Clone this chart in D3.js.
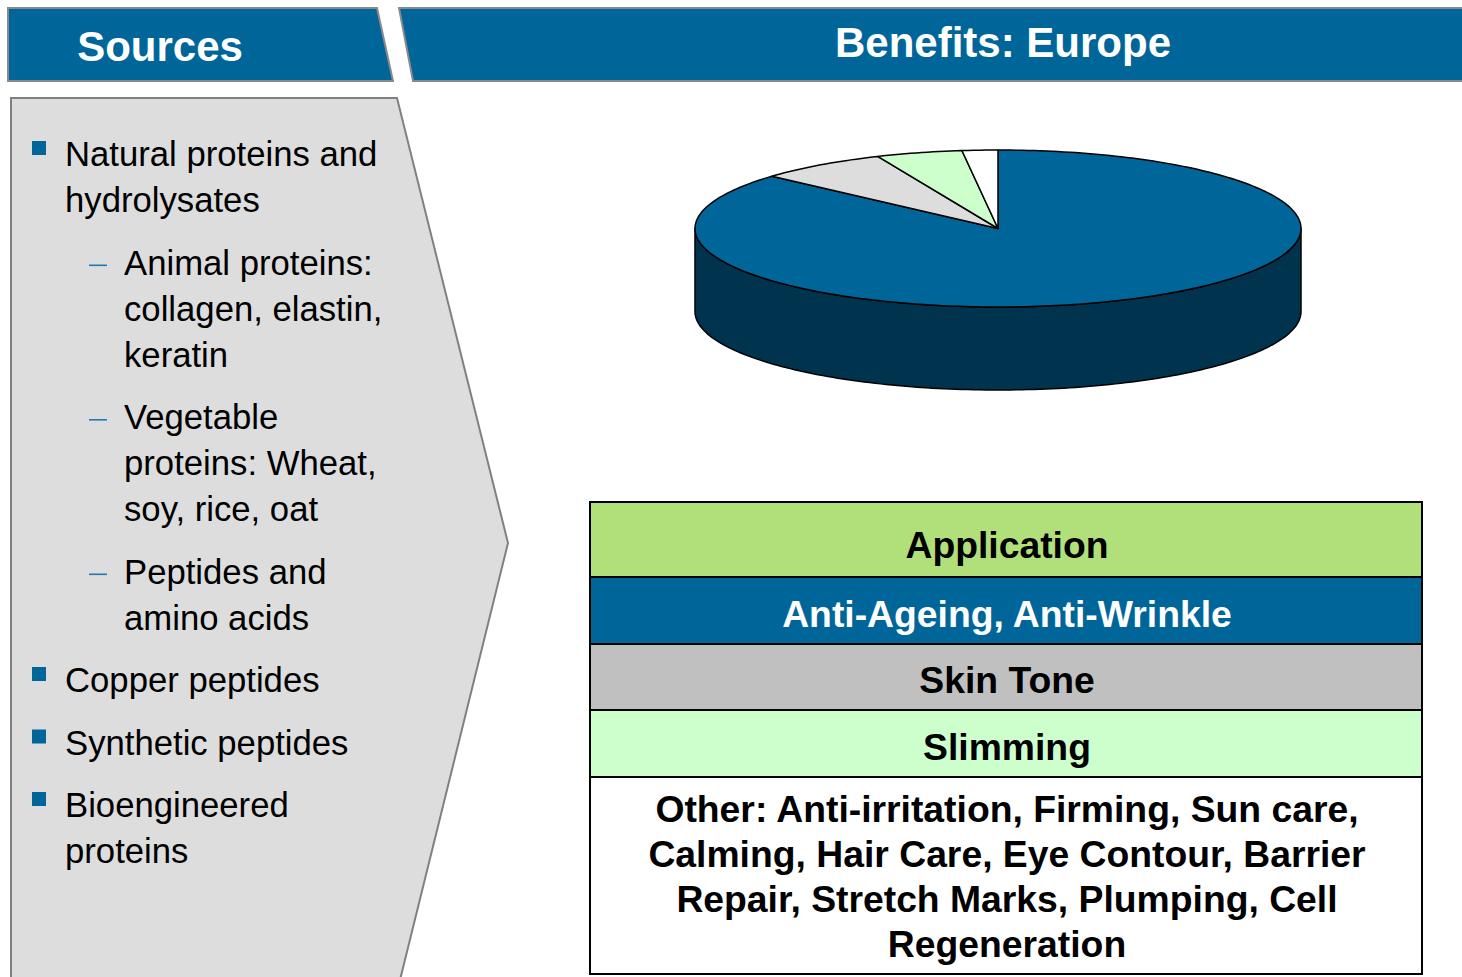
<!DOCTYPE html>
<html>
<head>
<meta charset="utf-8">
<script src="https://cdn.jsdelivr.net/npm/d3@7"></script>
<style>
  body { margin: 0; background: #fff; }
  text { font-family: Arial, "Liberation Sans", sans-serif; }
</style>
</head>
<body>
<div id="chart"></div>
<script>
// pie: share of benefits, clockwise from 12 o'clock
var categories = ['Anti-Ageing, Anti-Wrinkle', 'Skin Tone', 'Slimming', 'Other'];
var shares = [86.6, 6.9, 4.6, 1.9];
var sliceColors = ['#006699', '#dddddd', '#ccffcc', '#ffffff'];

// table rows
var tableLabels = ['Application', 'Anti-Ageing, Anti-Wrinkle', 'Skin Tone', 'Slimming',
  ['Other: Anti-irritation, Firming, Sun care,', 'Calming, Hair Care, Eye Contour, Barrier',
   'Repair, Stretch Marks, Plumping, Cell', 'Regeneration']];
var tableFills = ['#b1e07b', '#006699', '#c0c0c0', '#ccffcc', '#ffffff'];
var tableText = ['#000', '#fff', '#000', '#000', '#000'];

// left column bullets
var sourceLevels = [0, 1, 1, 1, 0, 0, 0];
var sourceLines = [
  ['Natural proteins and', 'hydrolysates'],
  ['Animal proteins:', 'collagen, elastin,', 'keratin'],
  ['Vegetable', 'proteins: Wheat,', 'soy, rice, oat'],
  ['Peptides and', 'amino acids'],
  ['Copper peptides'],
  ['Synthetic peptides'],
  ['Bioengineered', 'proteins']
];

var headerTitles = ['Sources', 'Benefits: Europe'];

var width = 1462, height = 977;
var blue = '#006699';

var svg = d3.select('#chart').append('svg')
  .attr('width', width)
  .attr('height', height);

// ---- headers
var line = d3.line();
svg.append('path')
  .attr('d', line([[8, 8], [377, 8], [393, 81], [8, 81]]) + 'Z')
  .style('fill', blue).style('stroke', '#8a8a8a').style('stroke-width', 2);
svg.append('path')
  .attr('d', line([[399, 8], [1466, 8], [1466, 81], [413, 81]]) + 'Z')
  .style('fill', blue).style('stroke', '#8a8a8a').style('stroke-width', 2);

svg.append('text')
  .attr('x', 160).attr('y', 61)
  .attr('text-anchor', 'middle')
  .style('font-size', '42px').style('font-weight', 'bold').style('fill', '#fff')
  .text(headerTitles[0]);
svg.append('text')
  .attr('x', 1003).attr('y', 57)
  .attr('text-anchor', 'middle')
  .style('font-size', '42px').style('font-weight', 'bold').style('fill', '#fff')
  .text(headerTitles[1]);

// ---- left panel
svg.append('path')
  .attr('d', line([[11, 98], [397, 98], [508, 543], [400, 980], [11, 980]]) + 'Z')
  .style('fill', '#dddddd').style('stroke', '#808080').style('stroke-width', 2);

var lineH = 46, itemGap = 62.5;
var baseline = 166;
var src = svg.append('g');
sourceLines.forEach(function(lines, i) {
  var lvl = sourceLevels[i];
  if (lvl === 0) {
    src.append('rect')
      .attr('x', 32).attr('y', baseline - 25)
      .attr('width', 14).attr('height', 14)
      .style('fill', blue);
  } else {
    src.append('rect')
      .attr('x', 89).attr('y', baseline - 10)
      .attr('width', 18).attr('height', 1.6)
      .style('fill', '#2477b0');
  }
  lines.forEach(function(t, j) {
    src.append('text')
      .attr('x', lvl === 0 ? 65 : 124)
      .attr('y', baseline + j * lineH)
      .style('font-size', '34.7px')
      .style('fill', '#000')
      .text(t);
  });
  baseline += (lines.length - 1) * lineH + itemGap;
});

// ---- 3D pie
var cx = 998, cy = 228.5, rx = 303, ry = 78.5, depth = 83;
function pt(a, dy) {
  return [cx + rx * Math.sin(a), cy - ry * Math.cos(a) + (dy || 0)];
}
function arcPts(a0, a1, dy) {
  var n = Math.max(2, Math.ceil(Math.abs(a1 - a0) / 0.02));
  return d3.range(n + 1).map(function(k) { return pt(a0 + (a1 - a0) * k / n, dy); });
}

var arcs = d3.pie().sort(null).value(function(d) { return d; })(shares);
var pieG = svg.append('g');

// side walls (front half only: pi/2 .. 3pi/2)
arcs.forEach(function(d, i) {
  var s = Math.max(d.startAngle, Math.PI / 2),
      e = Math.min(d.endAngle, 3 * Math.PI / 2);
  if (e <= s) return;
  var pts = arcPts(s, e, 0).concat(arcPts(e, s, depth));
  pieG.append('path')
    .attr('d', line(pts) + 'Z')
    .style('fill', d3.color(sliceColors[i]).darker(1.9))
    .style('stroke', '#000').style('stroke-width', 1.5)
    .style('stroke-linejoin', 'round');
});

// top faces
arcs.forEach(function(d, i) {
  var pts = [[cx, cy]].concat(arcPts(d.startAngle, d.endAngle, 0));
  pieG.append('path')
    .attr('d', line(pts) + 'Z')
    .attr('data-label', categories[i])
    .style('fill', sliceColors[i])
    .style('stroke', '#000').style('stroke-width', 1.5)
    .style('stroke-linejoin', 'round');
});

// ---- table
var tx = 590, tw = 832;
var rowEdges = [502, 577, 644, 710, 777, 974];
var tbl = svg.append('g');
tableLabels.forEach(function(lab, i) {
  var y0 = rowEdges[i], y1 = rowEdges[i + 1];
  tbl.append('rect')
    .attr('x', tx).attr('y', y0)
    .attr('width', tw).attr('height', y1 - y0)
    .style('fill', tableFills[i])
    .style('stroke', '#000').style('stroke-width', 2);
  var lines = Array.isArray(lab) ? lab : [lab];
  var first = Array.isArray(lab) ? y0 + 45 : (y0 + y1) / 2 + (i === 0 ? 18 : 16);
  lines.forEach(function(t, j) {
    tbl.append('text')
      .attr('x', tx + tw / 2 + 1)
      .attr('y', first + j * 45)
      .attr('text-anchor', 'middle')
      .style('font-size', '37.3px').style('font-weight', 'bold')
      .style('fill', tableText[i])
      .text(t);
  });
});
</script>
</body>
</html>
